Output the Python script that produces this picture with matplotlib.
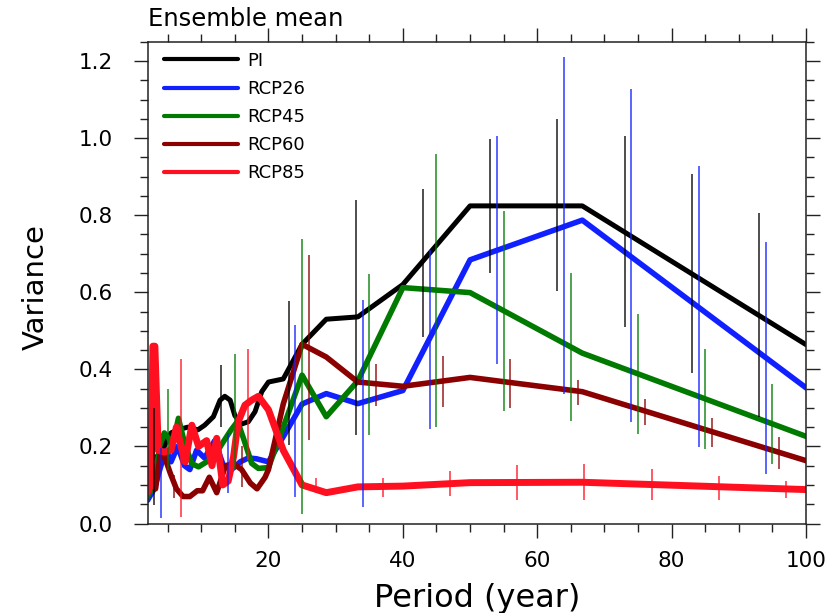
import matplotlib
matplotlib.use('Agg')
import matplotlib.pyplot as plt
from matplotlib.ticker import MultipleLocator

plt.rcParams['font.family'] = ['DejaVu Sans']

# ensemble-mean variance spectra (period in years)
p_pi = [2, 3, 4, 5, 5.5, 6.5, 8, 9.5, 10.5, 11.8, 12.8, 13.5, 14.3, 15, 16, 17, 18, 19,
        20, 22.2, 25, 28.6, 33.3, 40, 50, 66.7, 100]
v_pi = [0.17, 0.17, 0.18, 0.22, 0.235, 0.243, 0.25, 0.243, 0.255, 0.277, 0.32, 0.33, 0.32,
        0.28, 0.258, 0.264, 0.29, 0.342, 0.367, 0.375, 0.465, 0.53, 0.536, 0.62, 0.824, 0.824, 0.464]

p_26 = [2, 3, 4, 4.8, 5.5, 6.5, 7.5, 8.3, 9.3, 10.5, 12, 13.3, 14.5, 15.8, 17, 18.2,
        20, 22.2, 25, 28.6, 33.3, 40, 50, 66.7, 100]
v_26 = [0.06, 0.09, 0.15, 0.19, 0.16, 0.2, 0.15, 0.14, 0.19, 0.17, 0.215, 0.15, 0.14, 0.16,
        0.17, 0.168, 0.16, 0.225, 0.31, 0.337, 0.311, 0.345, 0.684, 0.787, 0.352]

p_45 = [2, 3, 3.8, 4.5, 5.2, 5.7, 6.6, 7.5, 8.6, 9.6, 10.8, 11.9, 13.1, 14.4, 15.4, 16.3,
        17.5, 18.5, 20, 22.2, 25, 28.6, 33.3, 40, 50, 66.7, 100]
v_45 = [0.07, 0.1, 0.2, 0.235, 0.22, 0.2, 0.273, 0.21, 0.155, 0.147, 0.16, 0.173, 0.207,
        0.242, 0.265, 0.22, 0.156, 0.143, 0.145, 0.25, 0.385, 0.277, 0.37, 0.612, 0.599, 0.442, 0.226]

p_60 = [2, 2.5, 3.2, 3.9, 4.6, 5.4, 6.3, 7.3, 8.3, 9.4, 10.2, 11.2, 12.3, 13.6, 14.8, 16,
        17.3, 18.3, 19.5, 20, 22.2, 25, 28.6, 33.3, 40, 50, 66.7, 100]
v_60 = [0.1, 0.1, 0.09, 0.18, 0.17, 0.13, 0.09, 0.07, 0.07, 0.085, 0.085, 0.12, 0.08, 0.15,
        0.155, 0.14, 0.105, 0.09, 0.12, 0.14, 0.31, 0.465, 0.432, 0.367, 0.356, 0.379, 0.342, 0.163]

p_85 = [2, 2.5, 2.8, 3.1, 3.6, 4.5, 5.5, 6.3, 7.0, 7.6, 8.6, 9.6, 10.8, 11.6, 12.3, 13.2,
        14, 14.8, 15.5, 16.5, 17.5, 18.5, 20, 22.2, 25, 28.6, 33.3, 40, 50, 66.7, 100]
v_85 = [0.08, 0.1, 0.46, 0.46, 0.19, 0.185, 0.19, 0.25, 0.2, 0.16, 0.255, 0.2, 0.215, 0.15,
        0.221, 0.1, 0.11, 0.173, 0.264, 0.307, 0.32, 0.33, 0.295, 0.19, 0.1, 0.08, 0.095,
        0.097, 0.106, 0.107, 0.088]

# spread bars: position, low, high
eb_pi_x = [3, 13, 23, 33, 43, 53, 63, 73, 83, 93]
eb_pi_lo = [0.048, 0.251, 0.203, 0.229, 0.484, 0.651, 0.602, 0.510, 0.390, 0.276]
eb_pi_hi = [0.299, 0.411, 0.577, 0.838, 0.867, 0.997, 1.049, 1.005, 0.907, 0.805]

eb_26_x = [4, 14, 24, 34, 44, 54, 64, 74, 84, 94]
eb_26_lo = [0.014, 0.079, 0.070, 0.043, 0.246, 0.414, 0.335, 0.263, 0.198, 0.129]
eb_26_hi = [0.195, 0.234, 0.515, 0.581, 0.710, 1.006, 1.21, 1.126, 0.928, 0.731]

eb_45_x = [5, 15, 25, 35, 45, 55, 65, 75, 85, 95]
eb_45_lo = [0.138, 0.138, 0.025, 0.230, 0.250, 0.291, 0.265, 0.231, 0.192, 0.155]
eb_45_hi = [0.350, 0.441, 0.739, 0.648, 0.959, 0.810, 0.649, 0.544, 0.453, 0.363]

eb_60_x = [6, 16, 26, 36, 46, 56, 66, 76, 86, 96]
eb_60_lo = [0.065, 0.095, 0.216, 0.304, 0.302, 0.299, 0.307, 0.255, 0.199, 0.142]
eb_60_hi = [0.126, 0.200, 0.697, 0.415, 0.435, 0.428, 0.373, 0.324, 0.275, 0.224]

eb_85_x = [7, 17, 27, 37, 47, 57, 67, 77, 87, 97]
eb_85_lo = [0.018, 0.165, 0.078, 0.070, 0.071, 0.060, 0.060, 0.060, 0.062, 0.067]
eb_85_hi = [0.428, 0.454, 0.117, 0.117, 0.137, 0.153, 0.155, 0.142, 0.124, 0.111]

labels = ['PI', 'RCP26', 'RCP45', 'RCP60', 'RCP85']
colors = ['black', '#1020ff', '#007a00', '#8b0000', '#ff1020']
widths = [3.6, 4.0, 4.0, 4.0, 5.0]

series = [(p_pi, v_pi), (p_26, v_26), (p_45, v_45), (p_60, v_60), (p_85, v_85)]
bars = [(eb_pi_x, eb_pi_lo, eb_pi_hi), (eb_26_x, eb_26_lo, eb_26_hi),
        (eb_45_x, eb_45_lo, eb_45_hi), (eb_60_x, eb_60_lo, eb_60_hi),
        (eb_85_x, eb_85_lo, eb_85_hi)]

fig = plt.figure(figsize=(8.31, 6.13), dpi=100)
ax = fig.add_axes([0.1775, 0.146, 0.7925, 0.786])

for (p, v), lab, c, w in zip(series, labels, colors, widths):
    ax.plot(p, v, color=c, lw=w, label=lab, solid_joinstyle='round',
            solid_capstyle='round', zorder=2)

for (bx, lo, hi), c in zip(bars, colors):
    ax.vlines(bx, lo, hi, color=c, lw=1.3, alpha=0.75, zorder=3)

ax.set_xlim(2, 100)
ax.set_ylim(0, 1.25)
ax.xaxis.set_major_locator(MultipleLocator(20))
ax.xaxis.set_minor_locator(MultipleLocator(5))
ax.yaxis.set_major_locator(MultipleLocator(0.2))
ax.yaxis.set_minor_locator(MultipleLocator(0.05))
ax.yaxis.set_major_formatter(plt.FuncFormatter(lambda y, _: f'{y:.1f}'))

ax.tick_params(which='both', direction='out', top=True, right=True, width=1.0, color='#222222')
ax.tick_params(which='major', length=10)
ax.tick_params(which='minor', length=5.5)
ax.tick_params(axis='x', which='major', labelsize=15.5, pad=10)
ax.tick_params(axis='y', which='major', labelsize=15.5, pad=15)
for s in ax.spines.values():
    s.set_linewidth(1.1)
    s.set_color('#222222')

ax.set_ylabel('Variance', fontsize=21)
ax.yaxis.set_label_coords(-0.148, 0.49)
fig.text(0.5738, 1 - 606.7 / 613, 'Period (year)', fontsize=23, ha='center', va='baseline')
fig.text(147.5 / 831, 1 - 26 / 613, 'Ensemble mean', fontsize=17.5, ha='left', va='baseline')

leg = ax.legend(loc='upper left', bbox_to_anchor=(0.0255, 0.979), frameon=False,
                fontsize=13, handlelength=4.1, handletextpad=0.5, labelspacing=0.56,
                borderpad=0, borderaxespad=0)
for line in leg.get_lines():
    line.set_linewidth(3.0)

fig.savefig('out.png', dpi=100)
